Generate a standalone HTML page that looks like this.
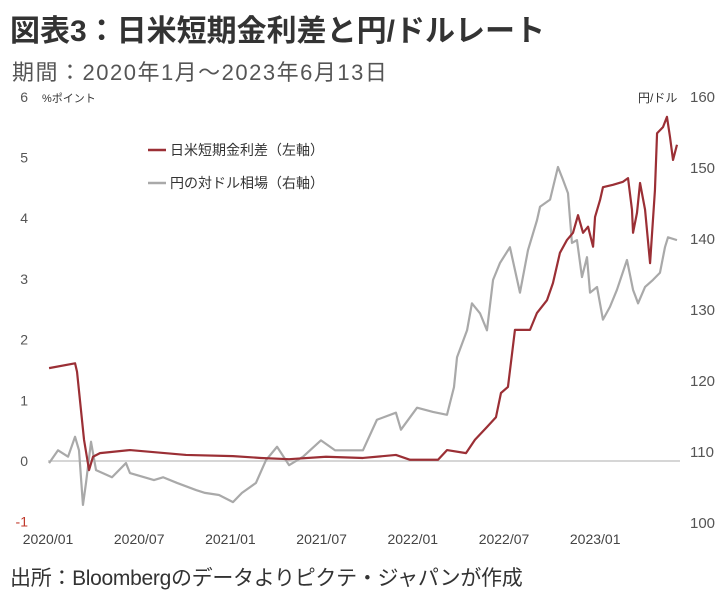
<!DOCTYPE html>
<html><head><meta charset="utf-8">
<style>
body{margin:0;background:#fff;width:727px;height:595px;overflow:hidden;font-family:"Liberation Sans","Noto Sans CJK JP",sans-serif;}
.t{position:absolute;left:10px;top:6px;font-size:30px;font-weight:bold;color:#333;}
.s{position:absolute;left:12px;top:55px;font-size:22px;color:#555;letter-spacing:1.5px;}
.src{position:absolute;left:10px;top:562px;font-size:21px;color:#333;letter-spacing:-0.3px;}
svg{position:absolute;left:0;top:0;}
svg text{font-family:"Liberation Sans","Noto Sans CJK JP",sans-serif;}
</style></head><body>
<div class="t">図表3：日米短期金利差と円/ドルレート</div>
<div class="s">期間：2020年1月～2023年6月13日</div>
<div class="src">出所：Bloombergのデータよりピクテ・ジャパンが作成</div>
<svg id="chart" width="727" height="595"></svg>
<script>
// months since 2020/01 and values
const spreadMonths=[0.07,1.78,1.91,2.37,2.70,2.96,3.42,5.39,9.08,12.17,14.01,15.86,18.29,20.72,22.89,23.82,25.66,26.25,27.50,28.09,28.88,29.47,29.80,30.26,30.5,30.72,31.71,32.17,32.83,33.22,33.68,34.14,34.54,34.87,35.20,35.53,35.86,35.99,36.32,36.51,37.17,37.83,38.16,38.42,38.49,38.75,38.95,39.28,39.61,39.93,40.07,40.46,40.72,40.92,41.12,41.38];
const spreadValues=[1.53,1.61,1.47,0.35,-0.15,0.07,0.13,0.18,0.10,0.08,0.05,0.03,0.07,0.05,0.10,0.02,0.02,0.18,0.13,0.35,0.56,0.72,1.12,1.22,1.71,2.16,2.16,2.44,2.65,2.93,3.43,3.64,3.76,4.05,3.76,3.86,3.53,4.02,4.30,4.51,4.55,4.60,4.66,4.14,3.76,4.09,4.58,4.14,3.26,4.46,5.40,5.50,5.67,5.34,4.96,5.21];
const fxMonths=[0.07,0.66,1.32,1.78,2.04,2.30,2.50,2.83,3.16,4.21,5.13,5.39,6.97,7.57,8.49,9.74,10.33,11.25,12.17,12.76,13.68,14.34,15.07,15.86,16.78,17.96,18.88,20.72,21.64,22.89,23.22,24.28,25.33,26.25,26.71,26.91,27.57,27.89,28.42,28.88,29.28,29.74,30.39,31.05,31.58,32.17,32.37,33.03,33.55,33.88,34.21,34.47,34.80,35.13,35.46,35.66,36.12,36.51,36.97,37.43,38.09,38.49,38.82,39.28,39.80,40.26,40.59,40.79,41.38];
const fxValues=[108.3,110.1,109.2,112.0,110.1,102.4,105.5,111.3,107.3,106.3,108.3,106.9,105.9,106.3,105.5,104.5,104.1,103.8,102.8,104.1,105.5,108.7,110.6,108.0,109.2,111.5,110.1,110.1,114.4,115.4,113.0,116.1,115.5,115.1,119.0,123.2,127.0,130.8,129.4,127.0,134.1,136.5,138.7,132.3,138.3,142.5,144.4,145.4,150.0,148.2,146.3,139.3,139.7,134.5,137.3,132.3,133.1,128.5,130.3,132.7,136.9,132.7,130.8,133.1,134.1,135.1,138.7,140.1,139.7];
const leftTicks=[6,5,4,3,2,1,0,-1];
const rightTicks=[160,150,140,130,120,110,100];
const xTickLabels=["2020/01","2020/07","2021/01","2021/07","2022/01","2022/07","2023/01"];
const xTickMonths=[0,6,12,18,24,30,36];

const svg=document.getElementById('chart');
const NS='http://www.w3.org/2000/svg';
const x=m=>48+m*15.2;
const yL=v=>461-v*60.7;
const yR=v=>522-(v-100)*7.1;
function mk(tag,attrs){const e=document.createElementNS(NS,tag);for(const k in attrs)e.setAttribute(k,attrs[k]);svg.appendChild(e);return e;}

let zl=mk('line',{x1:48,x2:680,y1:yL(0),y2:yL(0),stroke:'#c8c8c8','stroke-width':1.5});



leftTicks.forEach(v=>{const t=mk('text',{x:28,y:yL(v)+5,'text-anchor':'end','font-size':14,fill:v<0?'#c0392b':'#555'});t.textContent=v;

});
rightTicks.forEach(v=>{const t=mk('text',{x:690,y:yR(v)+6,'font-size':15,fill:'#555'});t.textContent=v;

});
xTickLabels.forEach((l,i)=>{const t=mk('text',{x:x(xTickMonths[i]),y:544,'text-anchor':'middle','font-size':14,fill:'#444'});t.textContent=l;

});

let u1=mk('text',{x:42,y:102,'font-size':11,fill:'#333'});u1.textContent='%ポイント';


let u2=mk('text',{x:638,y:102,'font-size':12,fill:'#333'});u2.textContent='円/ドル';



let fx=mk('polyline',{points:fxMonths.map((m,i)=>x(m)+','+yR(fxValues[i])).join(' '),fill:'none',stroke:'#a9a9a9','stroke-width':2.2,'stroke-linejoin':'round'});


let sp=mk('polyline',{points:spreadMonths.map((m,i)=>x(m)+','+yL(spreadValues[i])).join(' '),fill:'none',stroke:'#9b2f35','stroke-width':2.2,'stroke-linejoin':'round'});



let l1=mk('line',{x1:148,x2:166,y1:150,y2:150,stroke:'#9b2f35','stroke-width':2.5});


let t1=mk('text',{x:170,y:155,'font-size':14,fill:'#333'});t1.textContent='日米短期金利差（左軸）';


let l2=mk('line',{x1:148,x2:166,y1:183,y2:183,stroke:'#a9a9a9','stroke-width':2.5});


let t2=mk('text',{x:170,y:188,'font-size':14,fill:'#333'});t2.textContent='円の対ドル相場（右軸）';


</script>
</body></html>
